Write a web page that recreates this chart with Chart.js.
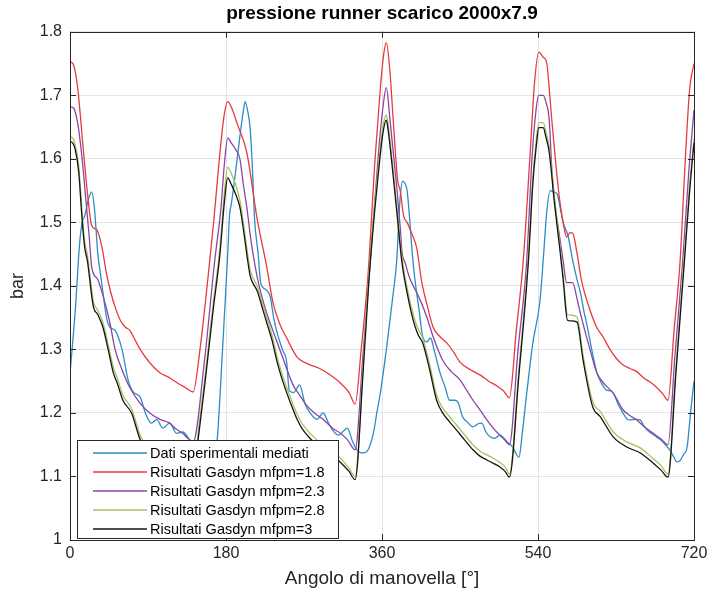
<!DOCTYPE html>
<html>
<head>
<meta charset="utf-8">
<script src="https://cdn.jsdelivr.net/npm/chart.js@4.4.1/dist/chart.umd.min.js"></script>
<style>
  html, body { margin: 0; padding: 0; background: #fff; }
</style>
</head>
<body>
<canvas id="myChart" width="713" height="601"></canvas>
<script>
const chartTitle = "pressione runner scarico 2000x7.9";
const xTitle = "Angolo di manovella [°]";
const yTitle = "bar";
const xTickLabels = ["0", "180", "360", "540", "720"];
const yTickLabels = ["1", "1.1", "1.2", "1.3", "1.4", "1.5", "1.6", "1.7", "1.8"];
const seriesNames = [
  "Dati sperimentali mediati",
  "Risultati Gasdyn mfpm=1.8",
  "Risultati Gasdyn mfpm=2.3",
  "Risultati Gasdyn mfpm=2.8",
  "Risultati Gasdyn mfpm=3",
];

// dati sperimentali mediati
const expAngle = [0, 6, 11, 14, 17, 21, 25, 28, 30, 32, 35, 38, 42, 46, 52, 60, 67, 73, 81, 87, 94, 100, 107, 115, 123, 130, 138, 146, 155, 162, 167, 170, 174, 178, 182, 184, 186, 188, 192, 196, 200, 202, 205, 208, 211, 213, 217, 220, 225, 231, 235, 239, 245, 250, 253, 258, 265, 271, 277, 285, 292, 298, 303, 310, 316, 320, 326, 331, 338, 343, 350, 354, 358, 366, 373, 377, 379, 381, 384, 387, 389, 392, 395, 398, 403, 407, 412, 416, 420, 427, 433, 438, 444, 448, 453, 459, 465, 471, 475, 480, 485, 490, 496, 504, 511, 515, 518, 522, 527, 534, 542, 546, 550, 554, 558, 562, 566, 569, 575, 580, 585, 589, 593, 597, 602, 608, 614, 619, 623, 627, 633, 638, 643, 646, 652, 658, 662, 666, 674, 681, 687, 692, 697, 700, 704, 708, 712, 716, 720];
const expBar = [1.262, 1.36, 1.465, 1.5, 1.51, 1.535, 1.548, 1.525, 1.49, 1.452, 1.42, 1.39, 1.351, 1.335, 1.33, 1.3, 1.252, 1.233, 1.225, 1.2, 1.184, 1.19, 1.176, 1.184, 1.168, 1.17, 1.158, 1.145, 1.135, 1.13, 1.135, 1.16, 1.25, 1.35, 1.45, 1.51, 1.528, 1.547, 1.59, 1.635, 1.675, 1.69, 1.675, 1.646, 1.57, 1.504, 1.452, 1.405, 1.395, 1.383, 1.35, 1.326, 1.3, 1.28, 1.235, 1.232, 1.244, 1.215, 1.2, 1.19, 1.2, 1.185, 1.173, 1.165, 1.172, 1.176, 1.155, 1.142, 1.137, 1.14, 1.168, 1.2, 1.231, 1.31, 1.389, 1.44, 1.493, 1.54, 1.565, 1.56, 1.55, 1.504, 1.45, 1.41, 1.36, 1.32, 1.312, 1.318, 1.3, 1.263, 1.24, 1.22, 1.22, 1.216, 1.194, 1.185, 1.178, 1.183, 1.184, 1.17, 1.162, 1.16, 1.165, 1.155, 1.146, 1.135, 1.13, 1.17, 1.231, 1.31, 1.373, 1.44, 1.515, 1.55, 1.548, 1.545, 1.52, 1.5, 1.477, 1.44, 1.41, 1.389, 1.36, 1.335, 1.3, 1.263, 1.245, 1.236, 1.235, 1.231, 1.212, 1.2, 1.19, 1.189, 1.19, 1.189, 1.18, 1.173, 1.165, 1.158, 1.15, 1.142, 1.13, 1.123, 1.125, 1.135, 1.146, 1.2, 1.25];

// Gasdyn mfpm=1.8
const m18Angle = [0, 4, 9, 15, 21, 25, 31, 37, 42, 47, 52, 58, 64, 69, 75, 81, 92, 104, 114, 123, 133, 142, 150, 159, 166, 173, 178, 182, 186, 193, 204, 216, 227, 234, 242, 250, 262, 273, 288, 300, 312, 322, 329, 336, 344, 352, 358, 362, 365, 369, 373, 378, 381, 385, 389, 395, 400, 406, 412, 419, 427, 435, 443, 450, 462, 473, 483, 492, 500, 507, 515, 523, 531, 536, 541, 546, 550, 553, 556, 560, 565, 569, 573, 577, 580, 585, 590, 600, 608, 615, 623, 631, 638, 646, 654, 662, 669, 677, 684, 690, 697, 704, 710, 715, 720];
const m18Bar = [1.753, 1.748, 1.71, 1.62, 1.535, 1.495, 1.488, 1.46, 1.42, 1.39, 1.367, 1.346, 1.335, 1.33, 1.315, 1.3, 1.279, 1.263, 1.256, 1.248, 1.24, 1.233, 1.3, 1.41, 1.504, 1.61, 1.67, 1.69, 1.682, 1.655, 1.61, 1.505, 1.43, 1.375, 1.34, 1.318, 1.288, 1.278, 1.27, 1.26, 1.247, 1.232, 1.214, 1.3, 1.42, 1.6, 1.71, 1.765, 1.783, 1.74, 1.66, 1.567, 1.55, 1.51, 1.5, 1.48, 1.46, 1.405, 1.37, 1.335, 1.32, 1.31, 1.295, 1.28, 1.268, 1.26, 1.25, 1.243, 1.235, 1.224, 1.33, 1.44, 1.61, 1.72, 1.768, 1.76, 1.752, 1.71, 1.66, 1.6, 1.535, 1.5, 1.477, 1.484, 1.483, 1.452, 1.41, 1.362, 1.334, 1.32, 1.3, 1.285, 1.276, 1.27, 1.265, 1.255, 1.249, 1.24, 1.23, 1.22, 1.33, 1.44, 1.6, 1.71, 1.75];

// Gasdyn mfpm=2.3
const m23Angle = [0, 4, 9, 14, 18, 22, 25, 32, 38, 46, 52, 60, 69, 81, 92, 104, 115, 122, 130, 136, 142, 155, 167, 174, 178, 182, 186, 191, 196, 200, 204, 208, 211, 216, 221, 227, 234, 242, 250, 257, 265, 273, 282, 292, 303, 312, 320, 329, 338, 346, 356, 361, 365, 369, 373, 377, 381, 383, 387, 392, 398, 404, 412, 419, 430, 440, 450, 458, 465, 473, 481, 489, 496, 502, 507, 517, 527, 533, 538, 541, 546, 549, 553, 556, 560, 565, 569, 573, 580, 585, 588, 594, 600, 608, 617, 627, 638, 646, 654, 663, 673, 682, 690, 698, 707, 714, 720];
const m23Bar = [1.682, 1.68, 1.655, 1.6, 1.54, 1.48, 1.43, 1.41, 1.385, 1.342, 1.3, 1.268, 1.24, 1.215, 1.2, 1.19, 1.184, 1.175, 1.168, 1.16, 1.154, 1.28, 1.44, 1.52, 1.59, 1.633, 1.625, 1.615, 1.6, 1.56, 1.524, 1.48, 1.452, 1.414, 1.385, 1.357, 1.33, 1.3, 1.27, 1.245, 1.228, 1.212, 1.2, 1.19, 1.176, 1.168, 1.158, 1.142, 1.29, 1.43, 1.61, 1.68, 1.712, 1.665, 1.61, 1.556, 1.493, 1.455, 1.435, 1.412, 1.395, 1.378, 1.35, 1.32, 1.283, 1.265, 1.252, 1.235, 1.22, 1.205, 1.189, 1.175, 1.165, 1.157, 1.15, 1.3, 1.44, 1.6, 1.68, 1.7, 1.7, 1.69, 1.661, 1.583, 1.524, 1.477, 1.44, 1.405, 1.405, 1.38, 1.362, 1.33, 1.3, 1.263, 1.245, 1.231, 1.205, 1.196, 1.189, 1.178, 1.168, 1.159, 1.15, 1.29, 1.44, 1.58, 1.677];

// Gasdyn mfpm=2.8
const m28Angle = [0, 3, 6, 10, 14, 17, 20, 27, 32, 38, 44, 50, 55, 61, 71, 81, 90, 100, 110, 120, 130, 142, 148, 156, 165, 173, 178, 182, 186, 191, 196, 201, 205, 208, 212, 216, 222, 227, 233, 239, 245, 250, 256, 262, 268, 275, 283, 292, 300, 309, 316, 322, 329, 338, 345, 351, 356, 361, 365, 367, 373, 378, 383, 389, 396, 401, 407, 415, 423, 430, 438, 446, 455, 465, 473, 481, 488, 496, 502, 507, 518, 529, 534, 538, 541, 546, 549, 553, 559, 565, 569, 574, 578, 585, 592, 603, 612, 627, 643, 658, 673, 682, 690, 699, 709, 715, 720];
const m28Bar = [1.635, 1.633, 1.622, 1.59, 1.515, 1.47, 1.45, 1.375, 1.362, 1.342, 1.308, 1.272, 1.253, 1.228, 1.207, 1.165, 1.147, 1.137, 1.127, 1.118, 1.11, 1.1, 1.17, 1.26, 1.37, 1.46, 1.545, 1.587, 1.577, 1.56, 1.535, 1.49, 1.45, 1.425, 1.41, 1.4, 1.373, 1.35, 1.323, 1.288, 1.26, 1.24, 1.218, 1.198, 1.183, 1.171, 1.16, 1.15, 1.142, 1.133, 1.123, 1.113, 1.1, 1.27, 1.42, 1.52, 1.59, 1.65, 1.669, 1.655, 1.58, 1.512, 1.445, 1.397, 1.355, 1.334, 1.318, 1.276, 1.228, 1.208, 1.194, 1.181, 1.166, 1.15, 1.14, 1.134, 1.129, 1.122, 1.115, 1.104, 1.27, 1.45, 1.57, 1.63, 1.657, 1.657, 1.643, 1.618, 1.538, 1.468, 1.418, 1.355, 1.354, 1.351, 1.291, 1.218, 1.202, 1.17, 1.154, 1.145, 1.128, 1.117, 1.104, 1.27, 1.45, 1.56, 1.632];

// Gasdyn mfpm=3
const m3Angle = m28Angle;
const m3Bar = [1.627, 1.625, 1.615, 1.58, 1.504, 1.46, 1.44, 1.367, 1.355, 1.335, 1.3, 1.263, 1.245, 1.22, 1.2, 1.158, 1.14, 1.13, 1.12, 1.112, 1.104, 1.095, 1.16, 1.25, 1.36, 1.45, 1.53, 1.57, 1.56, 1.545, 1.524, 1.48, 1.44, 1.415, 1.402, 1.392, 1.365, 1.342, 1.315, 1.28, 1.252, 1.232, 1.21, 1.19, 1.175, 1.163, 1.152, 1.142, 1.135, 1.126, 1.117, 1.108, 1.095, 1.26, 1.41, 1.51, 1.58, 1.64, 1.661, 1.646, 1.572, 1.504, 1.437, 1.389, 1.346, 1.325, 1.31, 1.268, 1.22, 1.2, 1.186, 1.173, 1.158, 1.142, 1.132, 1.126, 1.121, 1.115, 1.108, 1.099, 1.26, 1.44, 1.56, 1.62, 1.649, 1.649, 1.635, 1.61, 1.53, 1.46, 1.41, 1.346, 1.345, 1.343, 1.283, 1.21, 1.194, 1.162, 1.146, 1.137, 1.121, 1.11, 1.099, 1.26, 1.44, 1.55, 1.625];

const seriesColors = ["#2b8dc6", "#e63a3d", "#8b45a6", "#a7c160", "#151515"];
const font = '"Liberation Sans", Arial, Helvetica, sans-serif';

function toPoints(xs, ys) {
  return xs.map((x, i) => ({ x: x, y: ys[i] }));
}

const angles = [expAngle, m18Angle, m23Angle, m28Angle, m3Angle];
const values = [expBar, m18Bar, m23Bar, m28Bar, m3Bar];

const datasets = seriesNames.map((name, i) => {
  return {
    label: name,
    data: toPoints(angles[i], values[i]),
    borderColor: seriesColors[i],
    backgroundColor: seriesColors[i],
    borderWidth: 1.3,
    pointRadius: 0,
    cubicInterpolationMode: "monotone",
    order: 5 - i,
  };
});

// riquadro e tacche verso l'interno, come in matlab
const boxPlugin = {
  id: "boxPlugin",
  afterDatasetsDraw(chart) {
    const { ctx, chartArea: a, scales } = chart;
    const x = scales.x;
    const y = scales.y;
    ctx.save();
    ctx.strokeStyle = "#262626";
    ctx.lineWidth = 1;
    ctx.beginPath();
    x.ticks.forEach((t) => {
      const px = Math.round(x.getPixelForValue(t.value)) + 0.5;
      ctx.moveTo(px, a.bottom);
      ctx.lineTo(px, a.bottom - 6);
      ctx.moveTo(px, a.top);
      ctx.lineTo(px, a.top + 6);
    });
    y.ticks.forEach((t) => {
      const py = Math.round(y.getPixelForValue(t.value)) + 0.5;
      ctx.moveTo(a.left, py);
      ctx.lineTo(a.left + 6, py);
      ctx.moveTo(a.right, py);
      ctx.lineTo(a.right - 6, py);
    });
    ctx.stroke();
    ctx.strokeRect(Math.round(a.left) + 0.5, Math.round(a.top) + 0.5, Math.round(a.width), Math.round(a.height));
    ctx.restore();
  },
};

// legenda dentro il grafico in basso a sinistra
const legendPlugin = {
  id: "legendPlugin",
  afterDraw(chart) {
    const { ctx, chartArea: a } = chart;
    const sets = chart.data.datasets;
    const left = a.left + 7;
    const top = a.bottom - 100;
    const w = 261;
    const h = 98;
    ctx.save();
    ctx.fillStyle = "#fff";
    ctx.fillRect(left, top, w, h);
    ctx.strokeStyle = "#262626";
    ctx.lineWidth = 1;
    ctx.strokeRect(Math.round(left) + 0.5, Math.round(top) + 0.5, w, h);
    ctx.font = "14.5px " + font;
    ctx.textBaseline = "middle";
    ctx.textAlign = "left";
    sets.forEach((ds, i) => {
      const cy = top + 13 + i * 19;
      ctx.strokeStyle = ds.borderColor;
      ctx.lineWidth = 1.3;
      ctx.beginPath();
      ctx.moveTo(left + 16, cy);
      ctx.lineTo(left + 70, cy);
      ctx.stroke();
      ctx.fillStyle = "#000";
      ctx.fillText(ds.label, left + 73, cy + 1);
    });
    ctx.restore();
  },
};

const chart = new Chart("myChart", {
  type: "line",
  data: { datasets: datasets },
  plugins: [boxPlugin, legendPlugin],
  options: {
    responsive: false,
    animation: false,
    layout: { padding: { left: 0, right: 19, top: 0, bottom: 0 } },
    plugins: {
      legend: { display: false },
      tooltip: { enabled: false },
      title: {
        display: true,
        text: chartTitle,
        fullSize: false,
        color: "#000",
        font: { family: font, size: 19, weight: "bold" },
        padding: { top: 2, bottom: 7 },
      },
    },
    scales: {
      x: {
        type: "linear",
        min: 0,
        max: 720,
        afterFit: (s) => { s.height = 61; },
        afterBuildTicks: (s) => { s.ticks = xTickLabels.map((l) => ({ value: +l })); },
        ticks: {
          callback: (v, i) => xTickLabels[i],
          color: "#262626",
          font: { family: font, size: 16 },
          padding: 4,
          maxRotation: 0,
        },
        grid: { color: "#e4e4e4", drawTicks: false },
        border: { display: false },
        title: {
          display: true,
          text: xTitle,
          color: "#262626",
          font: { family: font, size: 19 },
          padding: { top: 0, bottom: 11 },
        },
      },
      y: {
        type: "linear",
        min: 1,
        max: 1.8,
        afterFit: (s) => { s.width = 70; },
        afterBuildTicks: (s) => { s.ticks = yTickLabels.map((l) => ({ value: +l })); },
        ticks: {
          callback: (v, i) => yTickLabels[i],
          color: "#262626",
          font: { family: font, size: 16 },
          padding: 8,
        },
        grid: { color: "#e4e4e4", drawTicks: false },
        border: { display: false },
        title: {
          display: true,
          text: yTitle,
          color: "#262626",
          font: { family: font, size: 18 },
          padding: { top: 7, bottom: 0 },
        },
      },
    },
  },
});
</script>
</body>
</html>
